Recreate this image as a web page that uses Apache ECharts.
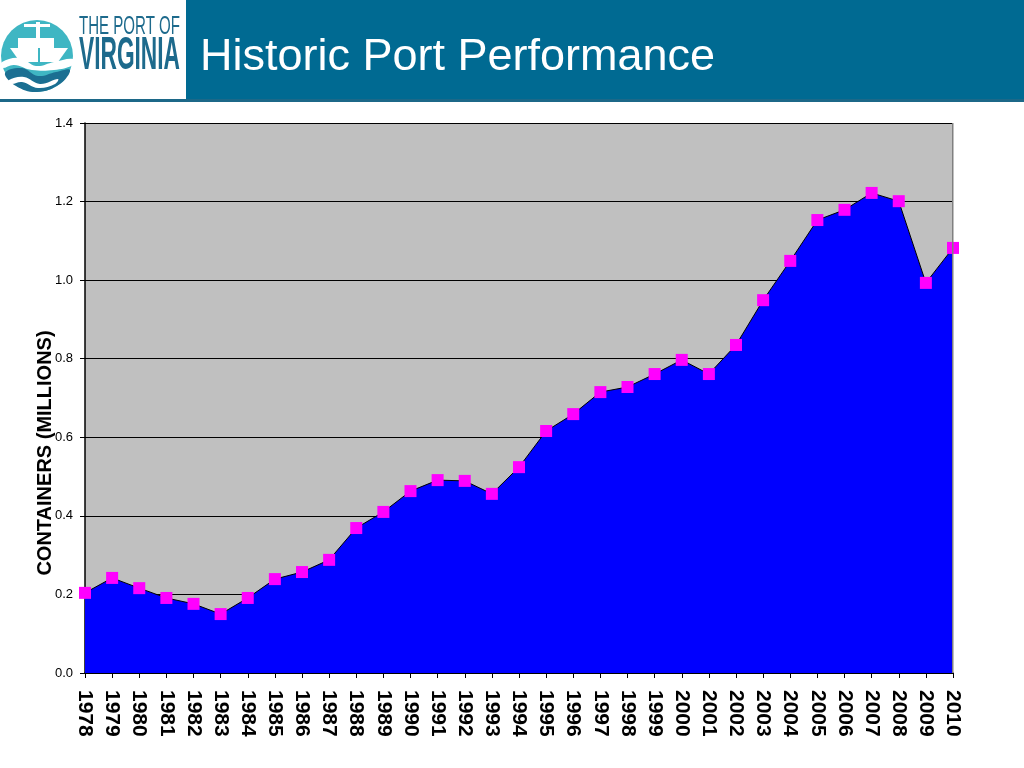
<!DOCTYPE html>
<html>
<head>
<meta charset="utf-8">
<script src="https://cdn.jsdelivr.net/npm/echarts@6/dist/echarts.min.js"></script>
<style>
html,body{margin:0;padding:0;background:#fff;}
#chart{width:1024px;height:768px;}
</style>
</head>
<body>
<div id="chart"></div>
<script>
const years = ['1978','1979','1980','1981','1982','1983','1984','1985','1986','1987','1988','1989','1990','1991','1992','1993','1994','1995','1996','1997','1998','1999','2000','2001','2002','2003','2004','2005','2006','2007','2008','2009','2010'];
const containers = [0.204,0.242,0.216,0.191,0.176,0.150,0.191,0.239,0.257,0.288,0.369,0.410,0.463,0.491,0.489,0.456,0.524,0.616,0.659,0.715,0.728,0.761,0.797,0.761,0.835,0.949,1.049,1.153,1.179,1.222,1.201,0.993,1.082];
const yTicks = {min:0, max:1.4, interval:0.2};
const title = 'Historic Port Performance';
const yName = 'CONTAINERS (MILLIONS)';

function fitScale(text, font, w){
  const c = document.createElement('canvas').getContext('2d');
  c.font = font;
  return w / c.measureText(text).width;
}
const f1 = '25px "Liberation Sans", Arial, sans-serif';
const f2 = 'bold 46px "Liberation Sans", Arial, sans-serif';
const s1 = fitScale('THE PORT OF', f1, 101);
const s2 = fitScale('VIRGINIA', f2, 101);

const chart = echarts.init(document.getElementById('chart'));
const logoBlue = '#1d6a8c';
chart.setOption({
  animation:false,
  backgroundColor:'#ffffff',
  graphic:[
    {type:'rect', shape:{x:186,y:0,width:838,height:101}, style:{fill:'#006a92'}, z:0},
    {type:'rect', shape:{x:0,y:99,width:1024,height:3}, style:{fill:'#1c6888'}, z:0},
    {type:'text', x:200, y:58, style:{text:title, fill:'#ffffff', font:'45px "Liberation Sans", Arial, sans-serif', verticalAlign:'middle'}},
    // logo
    {type:'circle', shape:{cx:37,cy:56,r:36}, style:{fill:'#3fb6c3'}},
    {type:'rect', shape:{x:36,y:22,width:4,height:30}, style:{fill:'#ffffff'}},
    {type:'rect', shape:{x:24,y:24,width:26,height:3}, style:{fill:'#ffffff'}},
    {type:'rect', shape:{x:18,y:38,width:36,height:10}, style:{fill:'#ffffff'}},
    {type:'polygon', shape:{points:[[10,48],[68,48],[58,62],[20,62]]}, style:{fill:'#ffffff'}},
    {type:'rect', shape:{x:38,y:48,width:2,height:14}, style:{fill:'#3fb6c3'}},
    {type:'polygon', shape:{smooth:0.4, points:[[2,62],[20,58],[36,66],[54,62],[73,59],[73,65],[54,70],[32,70],[14,65],[2,68]]}, style:{fill:'#ffffff'}},
    {type:'polygon', shape:{smooth:0.4, points:[[5,73],[22,68],[38,76],[56,72],[70,70],[60,84],[37,92],[16,86]]}, style:{fill:'#1b6f92'}},
    {type:'polygon', shape:{smooth:0.4, points:[[9,80],[24,77],[40,84],[58,79],[55,84],[38,88],[22,82],[11,84]]}, style:{fill:'#ffffff'}},
    {type:'text', x:79, y:40, scaleX:s1, style:{text:'THE PORT OF', fill:logoBlue, font:f1, verticalAlign:'bottom'}},
    {type:'text', x:79, y:79, scaleX:s2, style:{text:'VIRGINIA', fill:logoBlue, font:f2, verticalAlign:'bottom'}},
    // y axis name
    {type:'text', rotation:Math.PI/2, x:45, y:453, style:{text:yName, fill:'#000', font:'bold 20px "Liberation Sans", Arial, sans-serif', align:'center', verticalAlign:'middle'}},
    // right border
    {type:'rect', shape:{x:952,y:123,width:1.5,height:550}, style:{fill:'#808080'}, z:10}
  ],
  grid:{left:85, right:71, top:123, bottom:95, show:true, backgroundColor:'#c0c0c0', borderWidth:0},
  xAxis:{
    type:'category', data:years, boundaryGap:false,
    axisLine:{lineStyle:{color:'#000', width:1.5}},
    axisTick:{show:true, alignWithLabel:true, length:5, lineStyle:{color:'#000'}},
    axisLabel:{rotate:-90, interval:0, color:'#000', fontSize:21, fontWeight:'bold', fontFamily:'"Liberation Sans", Arial, sans-serif', margin:17},
    splitLine:{show:false}
  },
  yAxis:{
    type:'value', min:yTicks.min, max:yTicks.max, interval:yTicks.interval,
    axisLine:{show:true, lineStyle:{color:'#000', width:1.5}},
    axisTick:{show:true, length:5, lineStyle:{color:'#000'}},
    axisLabel:{color:'#000', fontSize:13, fontFamily:'"Liberation Sans", Arial, sans-serif', margin:12, formatter:v=>v.toFixed(1)},
    splitLine:{show:true, lineStyle:{color:'#000', width:1}}
  },
  series:[{
    type:'line', data:containers,
    lineStyle:{color:'#000', width:1},
    areaStyle:{color:'#0000ff', opacity:1},
    symbol:'rect', symbolSize:12,
    itemStyle:{color:'#ff00ff', borderWidth:0},
    z:3
  }]
});
</script>
</body>
</html>
